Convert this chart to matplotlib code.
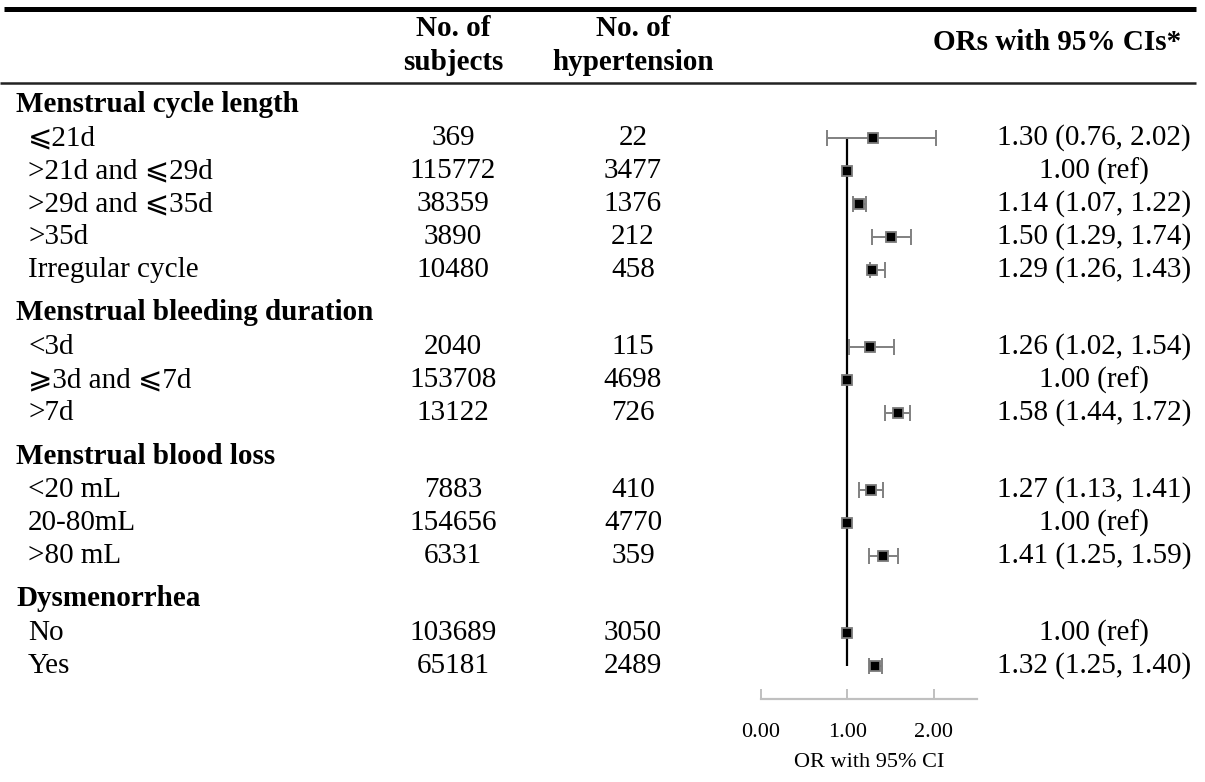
import matplotlib
matplotlib.use("Agg")
import matplotlib.pyplot as plt

plt.rcParams['font.family'] = ['Liberation Serif', 'DejaVu Sans']

# ---------------- data ----------------
groups = ["Menstrual cycle length", "Menstrual bleeding duration",
          "Menstrual blood loss", "Dysmenorrhea"]
labels = [
    ["⩽21d", ">21d and ⩽29d", ">29d and ⩽35d", ">35d", "Irregular cycle"],
    ["<3d", "⩾3d and ⩽7d", ">7d"],
    ["<20 mL", "20-80mL", ">80 mL"],
    ["No", "Yes"],
]
subjects = [[369, 115772, 38359, 3890, 10480],
            [2040, 153708, 13122],
            [7883, 154656, 6331],
            [103689, 65181]]
hypertension = [[22, 3477, 1376, 212, 458],
                [115, 4698, 726],
                [410, 4770, 359],
                [3050, 2489]]
or_vals = [[1.30, 1.00, 1.14, 1.50, 1.29],
           [1.26, 1.00, 1.58],
           [1.27, 1.00, 1.41],
           [1.00, 1.32]]
ci_low = [[0.76, None, 1.07, 1.29, 1.26],
          [1.02, None, 1.44],
          [1.13, None, 1.25],
          [None, 1.25]]
ci_high = [[2.02, None, 1.22, 1.74, 1.43],
           [1.54, None, 1.72],
           [1.41, None, 1.59],
           [None, 1.40]]
col_headers = [("No. of", "subjects"), ("No. of", "hypertension")]
or_header = "ORs with 95% CIs*"
xticks = [0, 1, 2]
xticklabels = ["0.00", "1.00", "2.00"]
xlabel = "OR with 95% CI"

# ---------------- layout ----------------
W, H = 1205, 782
fig = plt.figure(figsize=(W / 100, H / 100), dpi=100)
bg = fig.add_axes([0, 0, 1, 1])
bg.set_xlim(0, W)
bg.set_ylim(H, 0)
bg.axis("off")

axis_y = 699
ax = fig.add_axes([761 / W, 1 - axis_y / H, 216 / W, axis_y / H])
ax.set_xlim(0, 2.5)
ax.set_ylim(axis_y, 0)
ax.patch.set_alpha(0)

FS = 21
FSB = 21
x_label, x_group = 28, 16
x_sub, x_hyp, x_or = 453, 633, 1094

# rule lines
bg.plot([4, 1196], [8.5, 8.5], color="black", lw=3.6, solid_capstyle="butt")
bg.plot([0, 1196], [83, 83], color="#222222", lw=1.8, solid_capstyle="butt")

# column headers
for (l1, l2), xc in zip(col_headers, [x_sub, x_hyp]):
    bg.text(xc, 29, l1, ha="center", va="center", fontsize=FSB, fontweight="bold")
    bg.text(xc, 63, l2, ha="center", va="center", fontsize=FSB, fontweight="bold")
bg.text(1057, 43, or_header, ha="center", va="center", fontsize=FSB, fontweight="bold")

# row positions
step = 33.0
y = 104.0
row_y = []
for gi, g in enumerate(groups):
    if gi > 0:
        y += 43.0
    bg.text(x_group, y, g, ha="left", va="center", fontsize=FSB, fontweight="bold")
    y += 34.0
    ys = []
    for ri in range(len(labels[gi])):
        ys.append(y)
        if ri < len(labels[gi]) - 1:
            y += step
    row_y.append(ys)

all_y = []
for gi in range(len(groups)):
    for ri, lab in enumerate(labels[gi]):
        yy = row_y[gi][ri]
        all_y.append(yy)
        bg.text(x_label, yy, lab, ha="left", va="center", fontsize=FS)
        bg.text(x_sub, yy, str(subjects[gi][ri]), ha="center", va="center", fontsize=FS)
        bg.text(x_hyp, yy, str(hypertension[gi][ri]), ha="center", va="center", fontsize=FS)
        o, lo, hi = or_vals[gi][ri], ci_low[gi][ri], ci_high[gi][ri]
        if lo is None:
            s = f"{o:.2f} (ref)"
        else:
            s = f"{o:.2f} ({lo:.2f}, {hi:.2f})"
        bg.text(x_or, yy, s, ha="center", va="center", fontsize=FS)

# reference line
ax.vlines(1.0, min(all_y), max(all_y), color="black", lw=1.6, zorder=1)

# forest markers
for gi in range(len(groups)):
    for ri in range(len(labels[gi])):
        yy = row_y[gi][ri]
        o, lo, hi = or_vals[gi][ri], ci_low[gi][ri], ci_high[gi][ri]
        if lo is not None:
            ax.errorbar([o], [yy], xerr=[[o - lo], [hi - o]], fmt="none",
                        ecolor="#808080", elinewidth=1.4, capsize=6, capthick=1.4, zorder=2)
        ax.plot([o], [yy], marker="s", markersize=7, markerfacecolor="black",
                markeredgecolor="#7a7a7a", markeredgewidth=1.3, linestyle="none", zorder=3)

# axis styling
for side in ["top", "right", "left"]:
    ax.spines[side].set_visible(False)
ax.spines["bottom"].set_color("#c0c0c0")
ax.spines["bottom"].set_linewidth(1.6)
ax.set_yticks([])
ax.set_xticks(xticks)
ax.set_xticklabels(xticklabels, fontsize=16)
ax.tick_params(axis="x", direction="in", length=7, width=1.4, color="#c0c0c0", pad=17)
ax.set_xlabel(xlabel, fontsize=16, labelpad=8)

fig.savefig("out.png", dpi=100)
